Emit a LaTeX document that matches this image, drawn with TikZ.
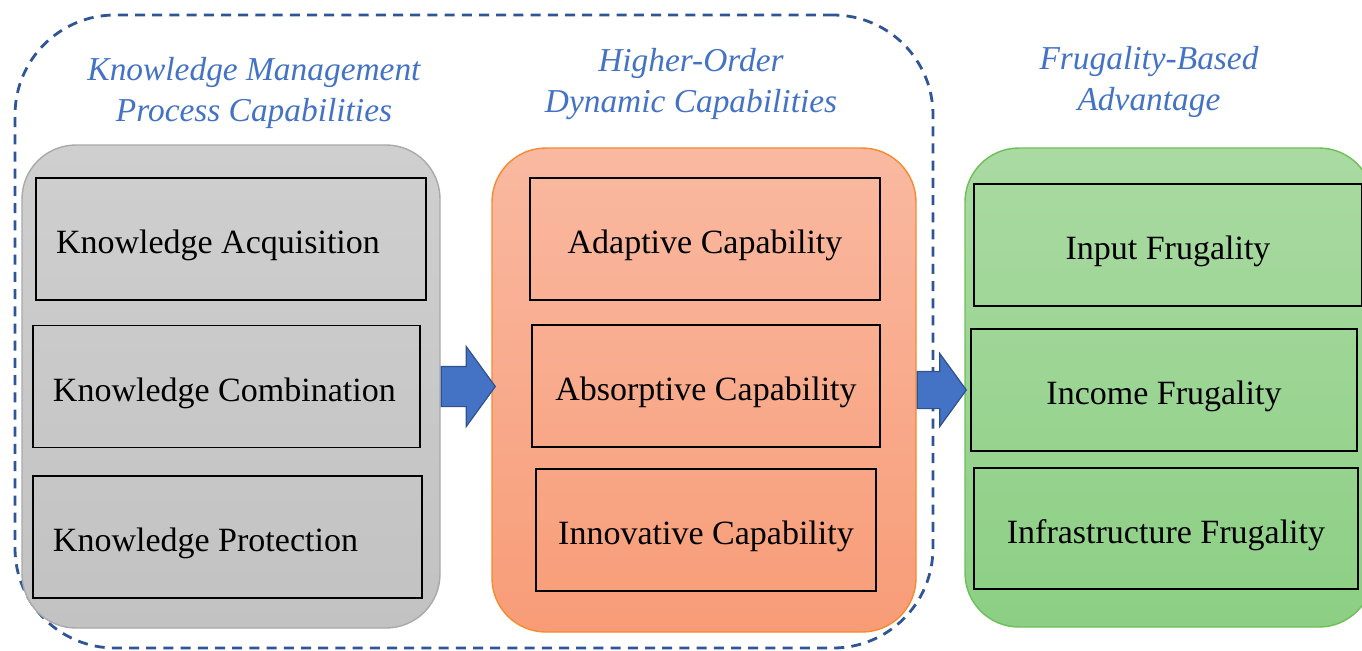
\documentclass[tikz,border=0pt]{standalone}
\usepackage{fontspec}
\setmainfont{Liberation Serif}
\usepackage{tikz}
\usetikzlibrary{%
  positioning
 ,shapes.arrows
}
\definecolor{titleblue}{HTML}{4472C4}
\definecolor{dashblue}{HTML}{2F5597}
\definecolor{arrowedge}{HTML}{2F528F}
\definecolor{graytop}{HTML}{CFCFCF}
\definecolor{graybot}{HTML}{C2C2C2}
\definecolor{grayedge}{HTML}{A9A9A9}
\definecolor{orangetop}{HTML}{F9B9A1}
\definecolor{orangebot}{HTML}{F89C77}
\definecolor{orangeedge}{HTML}{F58A2E}
\definecolor{greentop}{HTML}{AADAA2}
\definecolor{greenbot}{HTML}{8CCF84}
\definecolor{greenedge}{HTML}{6DBF59}
\tikzstyle{frame}=[rectangle,rounded corners=50pt,draw=dashblue,line width=1.4pt,dash pattern=on 5pt off 3.6pt]
\tikzstyle{group}=[rectangle,rounded corners=27pt,line width=0.7pt]
\tikzstyle{kmgroup}=[group,draw=grayedge,top color=graytop,bottom color=graybot]
\tikzstyle{dcgroup}=[group,draw=orangeedge,top color=orangetop,bottom color=orangebot]
\tikzstyle{fbgroup}=[group,draw=greenedge,top color=greentop,bottom color=greenbot]
\tikzstyle{item}=[rectangle,draw=black,line width=0.7pt,minimum height=61pt,text height=14.5pt,text depth=0pt,font=\fontsize{17}{20}\selectfont]
\tikzstyle{kmitem}=[item,align=flush left,inner xsep=10pt]
\tikzstyle{head}=[align=center,text=titleblue,font=\fontsize{16.7}{20.5}\selectfont\itshape]
\tikzstyle{flow}=[single arrow,fill=titleblue,draw=arrowedge,line width=0.6pt,inner xsep=0pt,single arrow tip angle=108,anchor=tail]

\begin{document}
\begin{tikzpicture}[x=0.5pt,y=-0.5pt]
  \useasboundingbox (0,0) rectangle (1362,650);
  \node[frame,minimum width=459pt,minimum height=316.5pt] (outer) at (474,331.5) {};
% 
  \node[kmgroup,minimum width=209pt,minimum height=241.5pt] (kmproc) at (231,386.5) {};
  \node[dcgroup,minimum width=212pt,minimum height=242pt]   (hodc)   at (704,390)   {};
  \node[fbgroup,minimum width=204pt,minimum height=239.5pt] (fba)    at (1169,387.5) {};
% 
  \node[head] (kmtitle) at (254,93) {Knowledge Management\\Process Capabilities};
  \node[head] (dctitle) at (691,84) {Higher-Order\\Dynamic Capabilities};
  \node[head] (fbtitle) at (1149,82) {Frugality-Based\\Advantage};
% 
  \node[kmitem,text width=175pt]   (acq)  at (231,239)   {Knowledge Acquisition};
  \node[kmitem,text width=173.5pt] (comb) at (226.5,386.5) {Knowledge Combination};
  \node[kmitem,text width=174.5pt] (prot) at (227.5,537) {Knowledge Protection};
% 
  \node[item,minimum width=175pt] (adapt)  at (705,239) {Adaptive Capability};
  \node[item,minimum width=174pt] (absorb) at (706,386) {Absorptive Capability};
  \node[item,minimum width=170pt] (innov)  at (706,530) {Innovative Capability};
% 
  \node[item,minimum width=194pt] (input)  at (1168,245) {Input Frugality};
  \node[item,minimum width=193pt] (income) at (1164,390) {Income Frugality};
  \node[item,minimum width=192pt,minimum height=60.5pt] (infra) at (1166,528.5) {Infrastructure Frugality};
% 
  \node[flow,minimum height=27pt,inner ysep=9.75pt,single arrow head extend=10pt] (toDC) at (kmproc.east) {};
  \node[flow,minimum height=24.5pt,inner ysep=9pt,single arrow head extend=9pt] (toFB) at (hodc.east) {};
\end{tikzpicture}
\end{document}
